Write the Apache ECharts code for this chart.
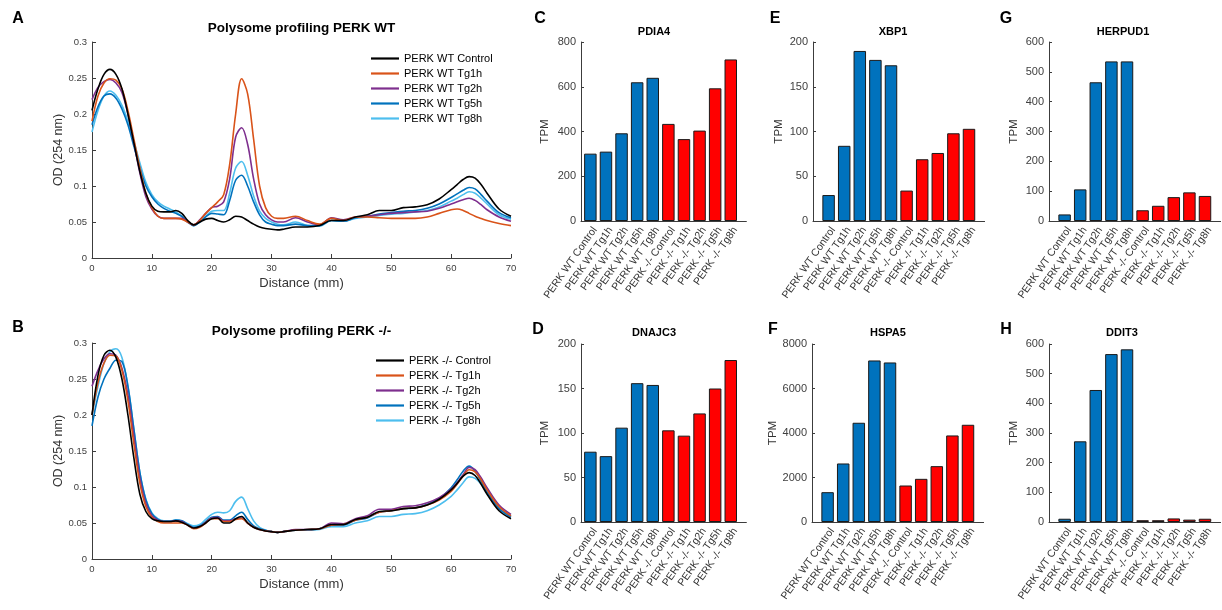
<!DOCTYPE html>
<html>
<head>
<meta charset="utf-8">
<title>PERK polysome profiling and UPR targets</title>
<script src="https://cdn.jsdelivr.net/npm/echarts@6.0.0/dist/echarts.min.js"></script>
<style>
  html, body { margin: 0; padding: 0; background: #fff; }
  #chart { width: 1222px; height: 610px; }
</style>
</head>
<body>
<div id="chart"></div>
<script>
// distance along the gradient (mm) where the traces were read
const distance = [
  0, 1, 2, 3, 4, 5, 6, 7, 8, 9, 10, 11, 12, 13, 14, 15, 16, 17, 18, 19,
  20, 21, 22, 23, 24, 25, 26, 27, 28, 29, 30, 31, 32,
  34, 36, 38, 40, 42, 44, 46, 48, 50, 52, 54, 56, 58,
  60, 61, 62, 63, 64, 65, 66, 68, 70
];

// panel A: PERK WT, OD 254 nm
const wtControl = [
  0.205, 0.235, 0.255, 0.262, 0.255, 0.235, 0.2, 0.16, 0.12, 0.09,
  0.072, 0.065, 0.064, 0.064, 0.066, 0.062, 0.052, 0.046, 0.05, 0.054,
  0.055, 0.052, 0.05, 0.053, 0.058, 0.057, 0.052, 0.047, 0.043, 0.041,
  0.04, 0.039, 0.04,
  0.043, 0.043, 0.045, 0.052, 0.052, 0.057, 0.06, 0.066, 0.066, 0.07, 0.071, 0.074, 0.082,
  0.095, 0.102, 0.109, 0.113, 0.111, 0.102, 0.09, 0.068, 0.058
];
const wtTg1h = [
  0.19, 0.225, 0.243, 0.249, 0.247, 0.235, 0.205, 0.165, 0.125, 0.09,
  0.07, 0.058, 0.055, 0.055, 0.055, 0.054, 0.05, 0.046, 0.052, 0.062,
  0.07, 0.078, 0.088, 0.13, 0.2, 0.249, 0.228, 0.165, 0.1, 0.07,
  0.058, 0.055, 0.055,
  0.058, 0.052, 0.047, 0.055, 0.052, 0.057, 0.057, 0.056, 0.055, 0.055, 0.055, 0.057, 0.062,
  0.067, 0.068, 0.066, 0.062, 0.058, 0.055, 0.052, 0.048, 0.045
];
const wtTg2h = [
  0.22, 0.237, 0.245, 0.248, 0.243, 0.23, 0.2, 0.16, 0.118, 0.085,
  0.068, 0.058, 0.055, 0.055, 0.055, 0.055, 0.05, 0.046, 0.053, 0.062,
  0.07, 0.072, 0.078, 0.11, 0.168, 0.181, 0.158, 0.11, 0.075, 0.06,
  0.053, 0.05, 0.05,
  0.056, 0.05, 0.046, 0.056, 0.053, 0.057, 0.058, 0.06, 0.062, 0.063, 0.064, 0.065, 0.069,
  0.075, 0.078, 0.081, 0.083, 0.08, 0.074, 0.067, 0.057, 0.051
];
const wtTg5h = [
  0.185, 0.21, 0.225, 0.228, 0.222, 0.207, 0.185, 0.155, 0.125, 0.1,
  0.085, 0.075, 0.069, 0.065, 0.062, 0.058, 0.05, 0.045, 0.05, 0.057,
  0.062, 0.061, 0.06, 0.08, 0.108, 0.115, 0.1, 0.078, 0.06, 0.05,
  0.047, 0.045, 0.045,
  0.047, 0.045, 0.045, 0.052, 0.051, 0.056, 0.058, 0.061, 0.063, 0.065, 0.066, 0.069, 0.075,
  0.084, 0.089, 0.094, 0.098, 0.096, 0.088, 0.079, 0.063, 0.056
];
const wtTg8h = [
  0.175, 0.205, 0.225, 0.232, 0.226, 0.212, 0.19, 0.162, 0.132, 0.105,
  0.088, 0.078, 0.072, 0.068, 0.064, 0.058, 0.05, 0.045, 0.05, 0.058,
  0.065, 0.066, 0.066, 0.09, 0.125, 0.134, 0.115, 0.086, 0.065, 0.055,
  0.05, 0.047, 0.046,
  0.05, 0.045, 0.044, 0.052, 0.051, 0.055, 0.057, 0.059, 0.061, 0.062, 0.064, 0.066, 0.071,
  0.079, 0.083, 0.088, 0.092, 0.09, 0.083, 0.075, 0.06, 0.054
];

// panel B: PERK -/-, OD 254 nm
const koControl = [
  0.2, 0.255, 0.283, 0.29, 0.28, 0.25, 0.2, 0.14, 0.09, 0.066,
  0.056, 0.053, 0.052, 0.052, 0.053, 0.051, 0.047, 0.043, 0.045, 0.05,
  0.056, 0.057, 0.05, 0.05, 0.056, 0.059, 0.05, 0.044, 0.041, 0.039,
  0.038, 0.037, 0.038,
  0.04, 0.041, 0.042, 0.048, 0.048, 0.055, 0.058, 0.066, 0.067, 0.07, 0.071, 0.075, 0.083,
  0.096, 0.105, 0.115, 0.12, 0.116, 0.104, 0.09, 0.067, 0.056
];
const koTg1h = [
  0.2, 0.245, 0.272, 0.283, 0.282, 0.262, 0.22, 0.16, 0.105, 0.073,
  0.058, 0.052, 0.05, 0.05, 0.05, 0.05, 0.047, 0.042, 0.044, 0.05,
  0.056, 0.056, 0.052, 0.052, 0.055, 0.056, 0.05, 0.044, 0.041, 0.039,
  0.038, 0.037, 0.038,
  0.04, 0.041, 0.042, 0.047, 0.048, 0.054, 0.058, 0.065, 0.067, 0.07, 0.071, 0.075, 0.082,
  0.094, 0.104, 0.115, 0.124, 0.121, 0.11, 0.096, 0.073, 0.06
];
const koTg2h = [
  0.24, 0.262, 0.278, 0.285, 0.283, 0.265, 0.228, 0.17, 0.112, 0.077,
  0.06, 0.054, 0.052, 0.052, 0.053, 0.052, 0.047, 0.043, 0.045, 0.051,
  0.057, 0.058, 0.053, 0.053, 0.056, 0.057, 0.05, 0.044, 0.041, 0.039,
  0.038, 0.037, 0.038,
  0.041, 0.041, 0.042, 0.05, 0.049, 0.056, 0.06, 0.069, 0.069, 0.073, 0.074, 0.078, 0.085,
  0.097, 0.106, 0.117, 0.127, 0.124, 0.113, 0.099, 0.075, 0.062
];
const koTg5h = [
  0.185, 0.225, 0.25, 0.265, 0.276, 0.274, 0.24, 0.18, 0.12, 0.082,
  0.063, 0.055, 0.052, 0.052, 0.054, 0.053, 0.048, 0.044, 0.046, 0.052,
  0.058, 0.059, 0.054, 0.054, 0.06, 0.065, 0.055, 0.046, 0.042, 0.04,
  0.038, 0.037, 0.038,
  0.04, 0.041, 0.042, 0.047, 0.047, 0.054, 0.057, 0.065, 0.067, 0.07, 0.071, 0.076, 0.084,
  0.099, 0.11, 0.122, 0.129, 0.122, 0.108, 0.093, 0.07, 0.058
];
const koTg8h = [
  0.2, 0.24, 0.272, 0.288, 0.292, 0.28, 0.24, 0.18, 0.12, 0.083,
  0.064, 0.056, 0.053, 0.053, 0.054, 0.053, 0.049, 0.046, 0.048, 0.055,
  0.062, 0.065, 0.064, 0.067, 0.08, 0.086, 0.07, 0.053, 0.044, 0.04,
  0.038, 0.037, 0.038,
  0.04, 0.04, 0.041, 0.045, 0.045, 0.05, 0.053, 0.059, 0.059, 0.062, 0.063, 0.067, 0.075,
  0.087, 0.096, 0.106, 0.114, 0.112, 0.104, 0.092, 0.071, 0.06
];

const wtNames = ['PERK WT Control', 'PERK WT Tg1h', 'PERK WT Tg2h', 'PERK WT Tg5h', 'PERK WT Tg8h'];
const koNames = ['PERK -/- Control', 'PERK -/- Tg1h', 'PERK -/- Tg2h', 'PERK -/- Tg5h', 'PERK -/- Tg8h'];
const lineColors = ['#000000', '#d95319', '#7e2f8e', '#0072bd', '#4dbeee'];

// panels C-H: TPM per sample
const samples = wtNames.concat(koNames);
const pdia4 = [301, 310, 392, 620, 640, 434, 366, 404, 593, 722];
const dnajc3 = [79, 74, 106, 156, 154, 103, 97, 122, 150, 182];
const xbp1 = [29, 84, 190, 180, 174, 34, 69, 76, 98, 103];
const hspa5 = [1340, 2630, 4460, 7260, 7170, 1640, 1940, 2510, 3890, 4370];
const herpud1 = [22, 106, 465, 535, 535, 36, 51, 80, 96, 84];
const ddit3 = [11, 272, 445, 566, 582, 6, 6, 12, 8, 11];

const FONT = '"Liberation Sans", Arial, Helvetica, sans-serif';
const AXIS = '#3c3c3c';
const TICK_TEXT = '#404040';
const BLUE = '#0072bd';
const RED = '#ff0000';
const UNIT = 15.6; // px per bar slot

const profilePanels = [
  { letter: 'A', title: 'Polysome profiling PERK WT', names: wtNames,
    series: [wtControl, wtTg1h, wtTg2h, wtTg5h, wtTg8h],
    top: 42, letterY: 19, titleY: 28, legendLeft: 371, legendTop: 51 },
  { letter: 'B', title: 'Polysome profiling PERK -/-', names: koNames,
    series: [koControl, koTg1h, koTg2h, koTg5h, koTg8h],
    top: 343, letterY: 328, titleY: 331, legendLeft: 376, legendTop: 353 }
];

const barPanels = [
  { letter: 'C', gene: 'PDIA4', values: pdia4, max: 800, step: 200, left: 581, top: 42, height: 179, xmin: 0.4, gap: 30, letterX: 540, letterY: 19, titleX: 654, titleY: 32 },
  { letter: 'E', gene: 'XBP1', values: xbp1, max: 200, step: 50, left: 813, top: 42, height: 179, xmin: 0, gap: 28, letterX: 775, letterY: 19, titleX: 893, titleY: 32 },
  { letter: 'G', gene: 'HERPUD1', values: herpud1, max: 600, step: 100, left: 1049, top: 42, height: 179, xmin: 0, gap: 29, letterX: 1006, letterY: 19, titleX: 1123, titleY: 32 },
  { letter: 'D', gene: 'DNAJC3', values: dnajc3, max: 200, step: 50, left: 581, top: 344, height: 178, xmin: 0.4, gap: 30, letterX: 538, letterY: 330, titleX: 654, titleY: 333 },
  { letter: 'F', gene: 'HSPA5', values: hspa5, max: 8000, step: 2000, left: 812, top: 344, height: 178, xmin: 0, gap: 33, letterX: 773, letterY: 330, titleX: 888, titleY: 333 },
  { letter: 'H', gene: 'DDIT3', values: ddit3, max: 600, step: 100, left: 1049, top: 344, height: 178, xmin: 0, gap: 29, letterX: 1006, letterY: 330, titleX: 1122, titleY: 333 }
];

function label(text, x, y, size, bold) {
  return {
    type: 'text', x, y, silent: true,
    style: {
      text, fill: '#000', font: `${bold ? 'bold ' : ''}${size}px ${FONT}`,
      textAlign: 'center', align: 'center',
      textVerticalAlign: 'middle', verticalAlign: 'middle'
    }
  };
}

const grid = [], xAxis = [], yAxis = [], series = [], legend = [], graphic = [];

profilePanels.forEach((p) => {
  const gi = grid.length;
  grid.push({ left: 92, top: p.top, width: 419, height: 216, outerBoundsMode: 'none', containLabel: false });
  xAxis.push({
    type: 'value', gridIndex: gi, min: 0, max: 70, interval: 10,
    axisLine: { show: true, onZero: false, lineStyle: { color: AXIS, width: 1 } },
    axisTick: { show: true, inside: true, length: 4, lineStyle: { color: AXIS } },
    axisLabel: { fontSize: 9.5, color: TICK_TEXT, margin: 5, fontFamily: FONT },
    splitLine: { show: false },
    name: 'Distance (mm)', nameLocation: 'middle', nameGap: 19,
    nameTextStyle: { fontSize: 13, color: '#333', fontFamily: FONT }
  });
  yAxis.push({
    type: 'value', gridIndex: gi, min: 0, max: 0.3, interval: 0.05,
    axisLine: { show: true, lineStyle: { color: AXIS, width: 1 } },
    axisTick: { show: true, inside: true, length: 4, lineStyle: { color: AXIS } },
    axisLabel: {
      fontSize: 9.5, color: TICK_TEXT, margin: 5, fontFamily: FONT,
      formatter: (v) => (v === 0 ? '0' : String(+v.toFixed(2)))
    },
    splitLine: { show: false },
    name: 'OD (254 nm)', nameLocation: 'middle', nameGap: 27,
    nameTextStyle: { fontSize: 12.5, color: '#333', fontFamily: FONT }
  });
  p.series.forEach((vals, k) => {
    series.push({
      name: p.names[k], type: 'line', xAxisIndex: gi, yAxisIndex: gi,
      data: distance.map((d, i) => [d, vals[i]]),
      smooth: 0.35, symbol: 'none', color: lineColors[k],
      lineStyle: { width: 1.6, color: lineColors[k] }, z: 10 - k
    });
  });
  legend.push({
    data: p.names, orient: 'vertical', left: p.legendLeft, top: p.legendTop,
    padding: 0, icon: 'rect', itemWidth: 28, itemHeight: 2.2, itemGap: 0,
    textStyle: { fontSize: 11, color: '#000', fontFamily: FONT, lineHeight: 15 }
  });
  graphic.push(label(p.letter, 18, p.letterY, 16, true));
  graphic.push(label(p.title, 301.5, p.titleY, 13.5, true));
});

barPanels.forEach((p) => {
  const gi = grid.length;
  grid.push({ left: p.left, top: p.top, width: (11 - p.xmin) * UNIT, height: p.height, outerBoundsMode: 'none', containLabel: false });
  xAxis.push({
    type: 'value', gridIndex: gi, min: p.xmin, max: 11,
    axisLine: { show: true, onZero: false, lineStyle: { color: AXIS, width: 1 } },
    axisTick: { show: false },
    axisLabel: {
      customValues: [1, 2, 3, 4, 5, 6, 7, 8, 9, 10],
      formatter: (v) => samples[Math.round(v) - 1],
      rotate: 55, verticalAlign: 'top', fontSize: 10.5, color: '#333', margin: 4, fontFamily: FONT
    },
    splitLine: { show: false }
  });
  yAxis.push({
    type: 'value', gridIndex: gi, min: 0, max: p.max, interval: p.step,
    axisLine: { show: true, lineStyle: { color: AXIS, width: 1 } },
    axisTick: { show: true, inside: true, length: 3, lineStyle: { color: AXIS } },
    axisLabel: { fontSize: 11, color: TICK_TEXT, margin: 5, fontFamily: FONT, formatter: (v) => String(v) },
    splitLine: { show: false },
    name: 'TPM', nameLocation: 'middle', nameGap: p.gap,
    nameTextStyle: { fontSize: 11.5, color: '#333', fontFamily: FONT }
  });
  series.push({
    name: p.gene, type: 'bar', xAxisIndex: gi, yAxisIndex: gi,
    data: p.values.map((v, i) => [i + 1, v]),
    barWidth: 0.8 * UNIT,
    itemStyle: {
      color: (d) => (d.dataIndex < 5 ? BLUE : RED),
      borderColor: '#1a1a1a', borderWidth: 1
    }
  });
  graphic.push(label(p.letter, p.letterX, p.letterY, 16, true));
  graphic.push(label(p.gene, p.titleX, p.titleY, 11, true));
});

const chart = echarts.init(document.getElementById('chart'), null, { renderer: 'canvas' });
chart.setOption({
  animation: false,
  backgroundColor: '#fff',
  textStyle: { fontFamily: FONT },
  grid, xAxis, yAxis, series, legend, graphic
});
window.addEventListener('resize', () => chart.resize());
</script>
</body>
</html>
